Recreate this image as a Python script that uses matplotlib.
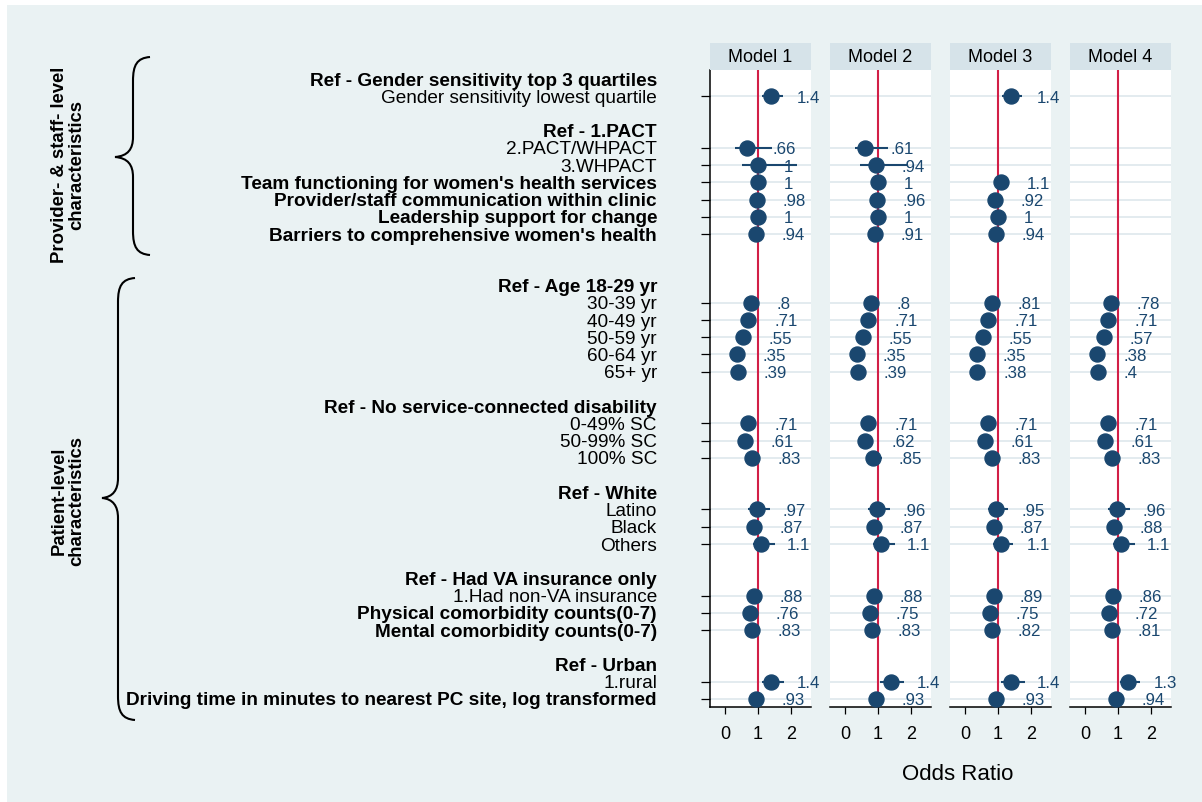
import numpy as np
import matplotlib.pyplot as plt
from matplotlib.patches import Rectangle, PathPatch
from matplotlib.path import Path
from matplotlib.transforms import Affine2D, ScaledTranslation, blended_transform_factory

plt.rcParams['font.family'] = ['Liberation Sans', 'DejaVu Sans']

# ---- rows shown on the y axis (blank strings are spacer rows) ----
row_labels = [
    "Ref - Gender sensitivity top 3 quartiles",
    "Gender sensitivity lowest quartile",
    "",
    "Ref - 1.PACT",
    "2.PACT/WHPACT",
    "3.WHPACT",
    "Team functioning for women's health services",
    "Provider/staff communication within clinic",
    "Leadership support for change",
    "Barriers to comprehensive women's health",
    "",
    "",
    "Ref - Age 18-29 yr",
    "30-39 yr",
    "40-49 yr",
    "50-59 yr",
    "60-64 yr",
    "65+ yr",
    "",
    "Ref - No service-connected disability",
    "0-49% SC",
    "50-99% SC",
    "100% SC",
    "",
    "Ref - White",
    "Latino",
    "Black",
    "Others",
    "",
    "Ref - Had VA insurance only",
    "1.Had non-VA insurance",
    "Physical comorbidity counts(0-7)",
    "Mental comorbidity counts(0-7)",
    "",
    "Ref - Urban",
    "1.rural",
    "Driving time in minutes to nearest PC site, log transformed",
]

bold_labels = {
    "Team functioning for women's health services",
    "Provider/staff communication within clinic",
    "Leadership support for change",
    "Barriers to comprehensive women's health",
    "Physical comorbidity counts(0-7)",
    "Mental comorbidity counts(0-7)",
    "Driving time in minutes to nearest PC site, log transformed",
}

# variables with estimates, in the order of the arrays below
variables = [
    "Gender sensitivity lowest quartile", "2.PACT/WHPACT", "3.WHPACT",
    "Team functioning for women's health services",
    "Provider/staff communication within clinic",
    "Leadership support for change",
    "Barriers to comprehensive women's health",
    "30-39 yr", "40-49 yr", "50-59 yr", "60-64 yr", "65+ yr",
    "0-49% SC", "50-99% SC", "100% SC",
    "Latino", "Black", "Others",
    "1.Had non-VA insurance", "Physical comorbidity counts(0-7)",
    "Mental comorbidity counts(0-7)",
    "1.rural",
    "Driving time in minutes to nearest PC site, log transformed",
]

nan = np.nan
models = ["Model 1", "Model 2", "Model 3", "Model 4"]

or_m1 = [1.4, .66, 1, 1, .98, 1, .94, .8, .71, .55, .35, .39, .71, .61, .83, .97, .87, 1.1, .88, .76, .83, 1.4, .93]
lo_m1 = [1.12, .30, .51, .92, .90, .91, .86, .68, .60, .46, .28, .31, .62, .52, .65, .71, .72, .86, .77, .70, .76, 1.12, .86]
hi_m1 = [1.77, 1.42, 2.18, 1.09, 1.07, 1.10, 1.03, .94, .84, .66, .44, .49, .81, .72, 1.07, 1.37, 1.05, 1.52, 1.01, .83, .90, 1.80, 1.01]

or_m2 = [nan, .61, .94, 1, .96, 1, .91, .8, .71, .55, .35, .39, .71, .62, .85, .96, .87, 1.1, .88, .75, .83, 1.4, .93]
lo_m2 = [nan, .30, .46, .92, .88, .91, .83, .68, .60, .46, .28, .31, .62, .53, .66, .71, .72, .84, .77, .69, .76, 1.07, .86]
hi_m2 = [nan, 1.32, 1.88, 1.09, 1.05, 1.10, 1.00, .94, .84, .66, .44, .49, .81, .73, 1.12, 1.37, 1.05, 1.52, 1.01, .82, .90, 1.80, 1.01]

or_m3 = [1.4, nan, nan, 1.1, .92, 1, .94, .81, .71, .55, .35, .38, .71, .61, .83, .95, .87, 1.1, .89, .75, .82, 1.4, .93]
lo_m3 = [1.12, nan, nan, 1.02, .85, .92, .87, .69, .60, .46, .28, .30, .62, .52, .65, .70, .72, .84, .78, .69, .75, 1.10, .86]
hi_m3 = [1.73, nan, nan, 1.19, 1.00, 1.09, 1.02, .95, .84, .66, .44, .48, .81, .72, 1.06, 1.30, 1.05, 1.45, 1.02, .82, .89, 1.83, 1.01]

or_m4 = [nan, nan, nan, nan, nan, nan, nan, .78, .71, .57, .38, .4, .71, .61, .83, .96, .88, 1.1, .86, .72, .81, 1.3, .94]
lo_m4 = [nan, nan, nan, nan, nan, nan, nan, .66, .60, .47, .30, .32, .62, .52, .65, .71, .73, .84, .75, .66, .74, 1.07, .87]
hi_m4 = [nan, nan, nan, nan, nan, nan, nan, .92, .84, .69, .48, .50, .81, .72, 1.06, 1.37, 1.06, 1.52, .99, .79, .88, 1.67, 1.02]

est_all = [or_m1, or_m2, or_m3, or_m4]
lo_all = [lo_m1, lo_m2, lo_m3, lo_m4]
hi_all = [hi_m1, hi_m2, hi_m3, hi_m4]

NAVY = "#1a476f"
RED = "#d21f47"
BG = "#eaf2f3"
STRIP = "#d6e3e9"
GRID = "#e0e9ee"

W, H = 1202, 802
fig = plt.figure(figsize=(W / 100, H / 100), dpi=100)
fig.patch.set_facecolor("white")

# pixel -> figure fraction (y pointing down)
px = Affine2D().scale(1 / W, -1 / H).translate(0, 1) + fig.transFigure

fig.add_artist(Rectangle((7, 5), W, H, transform=px, facecolor=BG,
                         edgecolor="none", zorder=-10))


def fmt(v):
    s = f"{v:g}"
    return s[1:] if s.startswith("0.") else s


ypos = np.array([row_labels.index(v) for v in variables], dtype=float)

axes = []
for i, name in enumerate(models):
    x0 = 710 + 120 * i
    ax = fig.add_axes([x0 / W, 1 - 707 / H, 101 / W, 637 / H])
    ax.set_facecolor("white")
    ax.set_xlim(-0.457, 2.618)
    ax.set_ylim(36.47, -0.52)
    for s in ["top", "right"]:
        ax.spines[s].set_visible(False)
    ax.spines["bottom"].set_linewidth(1.1)
    ax.spines["left"].set_linewidth(1.1)
    ax.spines["left"].set_visible(i == 0)

    ax.set_xticks([0, 1, 2])
    ax.tick_params(axis="x", length=5, width=0.9, labelsize=13, pad=8.5)
    if i == 0:
        ax.set_yticks(ypos)
        ax.tick_params(axis="y", length=6.5, width=0.9, labelleft=False)
    else:
        ax.set_yticks([])

    for y in ypos:
        ax.axhline(y, color=GRID, lw=1.3, zorder=1)
    ax.axvline(1, color=RED, lw=1.5, zorder=2)

    est = np.array(est_all[i], dtype=float)
    lo = np.array(lo_all[i], dtype=float)
    hi = np.array(hi_all[i], dtype=float)
    ok = ~np.isnan(est)
    ax.hlines(ypos[ok], lo[ok], hi[ok], color=NAVY, lw=1.5, zorder=3)
    ax.plot(est[ok], ypos[ok], "o", ms=10.8, color=NAVY, zorder=4)
    for v, y in zip(est[ok], ypos[ok]):
        ax.annotate(fmt(v), (v, y), xytext=(18.5, -1.4), textcoords="offset points",
                    ha="left", va="center", fontsize=12.2, color=NAVY,
                    annotation_clip=False)

    # panel title strip
    fig.add_artist(Rectangle((x0, 43), 101, 27, transform=px, facecolor=STRIP,
                             edgecolor="none"))
    fig.text((x0 + 50.5) / W, 1 - 57 / H, name, ha="center", va="center",
             fontsize=13)
    axes.append(ax)

# row labels, right-aligned left of the first panel
lab_tr = (blended_transform_factory(fig.transFigure, axes[0].transData)
          + ScaledTranslation(0, -1.5 / 72, fig.dpi_scale_trans))
for r, lab in enumerate(row_labels):
    if not lab:
        continue
    bold = lab.startswith("Ref") or lab in bold_labels
    axes[0].text(657 / W, r, lab, transform=lab_tr, ha="right", va="center",
                 fontsize=13.7, fontweight="bold" if bold else "normal",
                 clip_on=False)

fig.text(958 / W, 1 - 774 / H, "Odds Ratio", ha="center", va="center",
         fontsize=16)


def brace(xe, xv, xt, y0, yt, y1, k):
    # curly brace opening to the right: ends at xe, spine at xv, tip at xt
    verts = [(xe, y0), (xv + 4, y0 + 1), (xv, y0 + 8), (xv, y0 + k),
             (xv, yt - 20),
             (xv, yt - 8), (xv - 5, yt - 1), (xt, yt),
             (xv - 5, yt + 1), (xv, yt + 8), (xv, yt + 20),
             (xv, y1 - k),
             (xv, y1 - 8), (xv + 4, y1 - 1), (xe, y1)]
    codes = [Path.MOVETO, Path.CURVE4, Path.CURVE4, Path.CURVE4,
             Path.LINETO,
             Path.CURVE4, Path.CURVE4, Path.CURVE4,
             Path.CURVE4, Path.CURVE4, Path.CURVE4,
             Path.LINETO,
             Path.CURVE4, Path.CURVE4, Path.CURVE4]
    fig.add_artist(PathPatch(Path(verts, codes), transform=px, facecolor="none",
                             edgecolor="black", lw=1.5))


brace(150, 133, 115, 57, 157, 255, 24)
brace(135, 118, 102, 278, 498, 720, 24)

fig.text(68 / W, 1 - 165 / H, "Provider- & staff- level\ncharacteristics",
         rotation=90, ha="center", va="center", fontsize=13.3,
         fontweight="bold", linespacing=1.05, multialignment="center")
fig.text(68 / W, 1 - 501 / H, "Patient-level\ncharacteristics",
         rotation=90, ha="center", va="center", fontsize=13.3,
         fontweight="bold", linespacing=1.05, multialignment="center")

fig.savefig("out.png", dpi=100)
